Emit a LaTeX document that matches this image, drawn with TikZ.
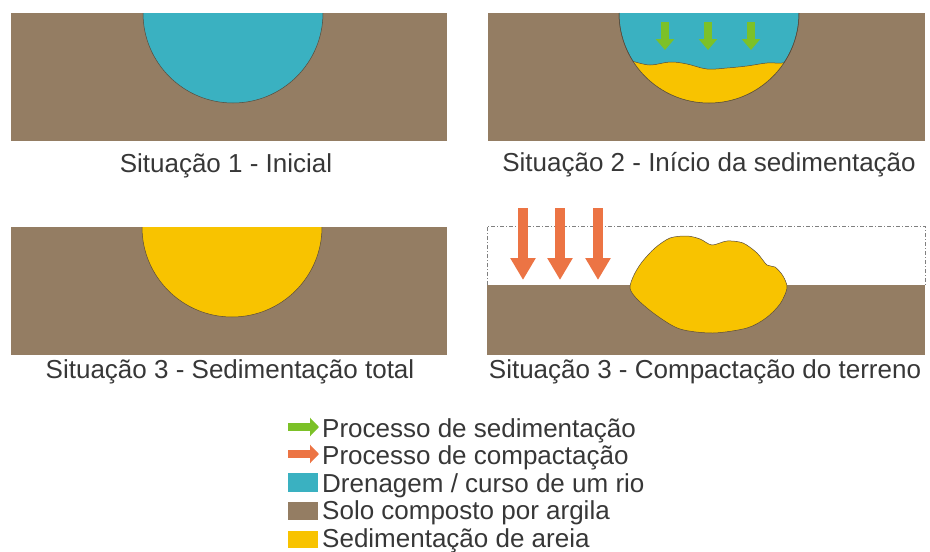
\documentclass[tikz,border=0pt]{standalone}
\usepackage{fontspec}
\setmainfont{Liberation Sans}
\usetikzlibrary{arrows.meta, positioning}
\usepackage{xcolor}
\definecolor{Soil}{RGB}{148,125,99}
\definecolor{River}{RGB}{58,177,193}
\definecolor{Sand}{RGB}{248,195,0}
\definecolor{SedGreen}{RGB}{124,193,40}
\definecolor{CompOrange}{RGB}{236,116,68}
\definecolor{Ink}{RGB}{55,55,55}

\begin{document}
\begin{tikzpicture}[x=1pt, y=-1pt]
	\tikzstyle{caption} = [text=Ink, font=\fontsize{26}{30}\selectfont, inner sep=0pt, anchor=base]
	\tikzstyle{legtext} = [text=Ink, font=\fontsize{26}{30}\selectfont, inner sep=0pt, anchor=base west]
	\tikzstyle{outline} = [draw=Soil!60!black, line width=.5pt]
	\tikzstyle{sedarrow} = [SedGreen, line width=8pt, -{Triangle[width=18pt, length=11pt]}]
	\tikzstyle{comparrow} = [CompOrange, line width=10pt, -{Triangle[width=24pt, length=22pt]}]
	
	\useasboundingbox (0,0) rectangle (930,552);
	
	% situacao 1
	\fill[Soil] (11,13) rectangle (447,141);
	\begin{scope}
		\clip (11,13) rectangle (447,141);
		\fill[River, outline] (233,13) circle[radius=90];
	\end{scope}
	\node[caption] (cap1) at (226,172) {Situação 1 - Inicial};
	
	% situacao 2
	\fill[Soil] (488,13) rectangle (925,141);
	\begin{scope}
		\clip (488,13) rectangle (925,141);
		\fill[River, outline] (709,13) circle[radius=90];
		\clip (709,13) circle[radius=90];
		\fill[Sand, outline] (600,61) -- plot[smooth, tension=.6] coordinates {(632,61) (650,65) (670,62) (687,64) (707,69) (727,68) (747,66) (767,63) (782,63) (820,61)} -- (820,120) -- (600,120) -- cycle;
	\end{scope}
	\draw[outline] (709,13) ++(-90,0) arc[start angle=180, end angle=0, radius=90];
	\coordinate (s1) at (665,22);
	\coordinate (s2) at (708,22);
	\coordinate (s3) at (751,22);
	\draw[sedarrow] (s1) -- ++(0,28);
	\draw[sedarrow] (s2) -- ++(0,28);
	\draw[sedarrow] (s3) -- ++(0,28);
	\node[caption] (cap2) at (709,171) {Situação 2 - Início da sedimentação};
	
	% situacao 3
	\fill[Soil] (11,227) rectangle (447,355);
	\begin{scope}
		\clip (11,227) rectangle (447,355);
		\fill[Sand, outline] (232,227) circle[radius=90];
	\end{scope}
	\node[caption] (cap3) at (230,378) {Situação 3 - Sedimentação total};
	
	% situacao 3, terreno compactado
	\draw[gray, line width=.5pt, dash pattern=on 4pt off 2pt on 1pt off 2pt] (487,285) -- (487,226) -- (925,226) -- (925,285);
	\fill[Soil] (487,285) rectangle (925,355);
	\fill[Sand, outline] plot[smooth cycle, tension=.5] coordinates {(630,288) (634,275) (642,262) (655,248) (670,238) (687,236) (700,239) (712,245) (727,241) (743,243) (757,253) (767,265) (775,267) (783,276) (787,288) (780,304) (766,318) (747,328) (713,333) (680,329) (656,315) (637,299)};
	\coordinate (c1) at (523,208);
	\coordinate (c2) at (560,208);
	\coordinate (c3) at (598,208);
	\draw[comparrow] (c1) -- ++(0,72);
	\draw[comparrow] (c2) -- ++(0,72);
	\draw[comparrow] (c3) -- ++(0,72);
	\node[caption] (cap4) at (705,378) {Situação 3 - Compactação do terreno};
	
	% legenda
	\node[legtext] (leg1) at (322,437) {Processo de sedimentação};
	\node[legtext, below=27.5pt of leg1.base west, anchor=base west] (leg2) {Processo de compactação};
	\node[legtext, below=27.5pt of leg2.base west, anchor=base west] (leg3) {Drenagem / curso de um rio};
	\node[legtext, below=27.5pt of leg3.base west, anchor=base west] (leg4) {Solo composto por argila};
	\node[legtext, below=27.5pt of leg4.base west, anchor=base west] (leg5) {Sedimentação de areia};
	
	\coordinate (g1) at (288,427);
	\coordinate (g2) at (288,454);
	\draw[SedGreen, line width=8pt, -{Triangle[width=18pt, length=9pt]}] (g1) -- ++(31,0);
	\draw[CompOrange, line width=8pt, -{Triangle[width=18pt, length=9pt]}] (g2) -- ++(31,0);
	\fill[River] (288,473) rectangle (318,492);
	\fill[Soil] (288,502) rectangle (318,520);
	\fill[Sand] (288,531) rectangle (318,548);
\end{tikzpicture}
\end{document}
